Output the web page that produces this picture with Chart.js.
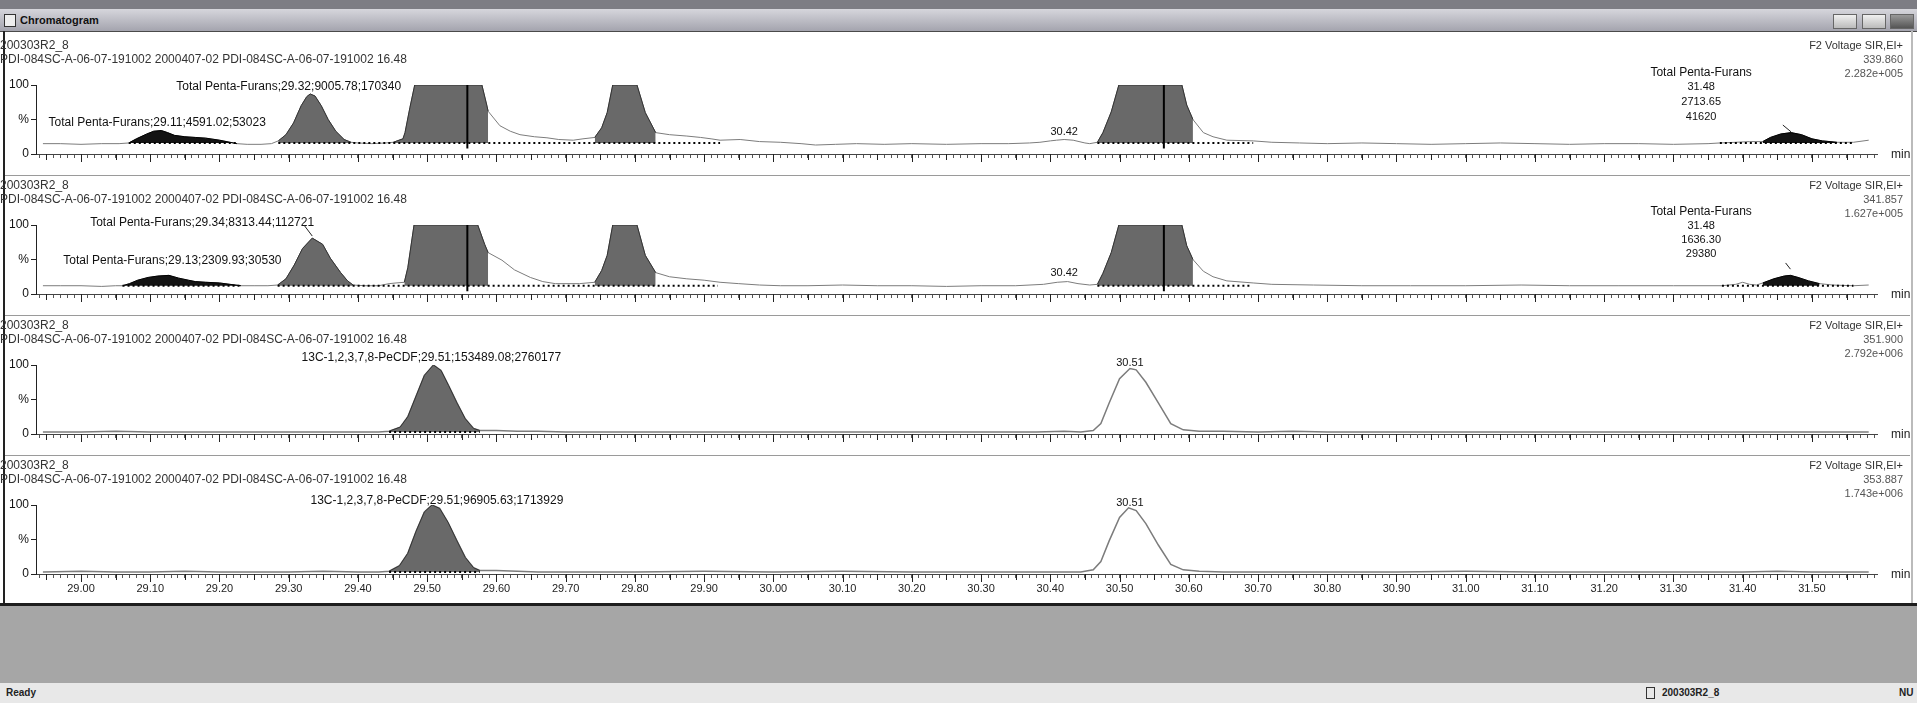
<!DOCTYPE html>
<html>
<head>
<meta charset="utf-8">
<script src="https://cdn.jsdelivr.net/npm/chart.js@4.4.1/dist/chart.umd.min.js"></script>
<style>
  body { margin: 0; width: 1917px; height: 703px; overflow: hidden; background: #fff; position: relative;
         font-family: "Liberation Sans", Arial, sans-serif; color: #222; }
  .abs { position: absolute; }
  #top { left: 0; top: 0; width: 1917px; height: 9px; background: #7d7d84; }
  #bar { left: 0; top: 9px; width: 1917px; height: 22px; background: linear-gradient(#d6d6dc, #a4a4ae); border-bottom: 1px solid #4a4a4a; }
  #bar span { position: absolute; left: 20px; top: 5px; font-size: 11px; font-weight: bold; color: #111; }
  #icon { left: 4px; top: 14px; width: 10px; height: 11px; border: 1px solid #333; background: #eee; }
  .btn { top: 14px; height: 13px; border: 1px solid #666; background: linear-gradient(#f0f0f0, #bbb); }
  #lborder { left: 3px; top: 31px; width: 2px; height: 572px; background: #222; }
  #rborder { left: 1911px; top: 31px; width: 2px; height: 572px; background: #bbb; }
  .sep { left: 5px; width: 1905px; height: 1px; background: #9a9a9a; }
  .hdr { left: 0; font-size: 12px; color: #333; white-space: nowrap; line-height: 14px; }
  .rhdr { right: 14px; font-size: 11px; color: #555; text-align: right; white-space: nowrap; line-height: 14px; }
  canvas { position: absolute; left: 0; }
  #gray { left: 0; top: 603px; width: 1917px; height: 80px; background: #a6a6a6; border-top: 3px solid #1e1e1e; box-sizing: border-box; }
  #status { left: 0; top: 683px; width: 1917px; height: 20px; background: #e8e8e8; font-size: 10px; font-weight: bold; }
</style>
</head>
<body>
<div class="abs" id="top"></div>
<div class="abs" id="bar"><span>Chromatogram</span></div>
<div class="abs" id="icon"></div>
<div class="abs btn" style="left:1833px;width:22px"></div>
<div class="abs btn" style="left:1862px;width:22px"></div>
<div class="abs btn" style="left:1890px;width:22px;background:linear-gradient(#999,#555)"></div>

<canvas id="c0" width="1917" height="122" style="top:50px"></canvas>
<canvas id="c1" width="1917" height="122" style="top:190px"></canvas>
<canvas id="c2" width="1917" height="122" style="top:330px"></canvas>
<canvas id="c3" width="1917" height="134" style="top:470px"></canvas>

<div class="abs" id="lborder"></div>
<div class="abs" id="rborder"></div>
<div class="abs" id="gray"></div>
<div class="abs" id="status">
  <span style="position:absolute;left:6px;top:4px">Ready</span>
  <span style="position:absolute;left:1646px;top:4px;width:7px;height:10px;border:1px solid #333"></span>
  <span style="position:absolute;left:1662px;top:4px">200303R2_8</span>
  <span style="position:absolute;left:1899px;top:4px">NU</span>
</div>

<script>
// x range (min)
const xMin = 28.935;
const xMax = 31.594;
const xTickStep = 0.01;

// header texts
const sampleName = '200303R2_8';
const sampleDesc = 'PDI-084SC-A-06-07-191002 2000407-02 PDI-084SC-A-06-07-191002 16.48';
const funcName = 'F2 Voltage SIR,EI+';
const panelMass = ['339.860', '341.857', '351.900', '353.887'];
const panelScale = ['2.282e+005', '1.627e+005', '2.792e+006', '1.743e+006'];

// ---- panel 1 : 339.860 ----
const p1Trace = [
  [28.945,15],[28.97,15],[29.00,14],[29.03,15],[29.055,15],
  [29.069,16],[29.08,22],[29.095,29],[29.105,33],[29.116,34],[29.125,31],[29.135,27],[29.15,25],[29.165,24],[29.18,23],[29.20,20],[29.215,17],[29.225,15],
  [29.24,14],[29.26,14],[29.275,15],[29.285,19],[29.296,28],[29.307,45],[29.318,70],[29.326,83],[29.331,87],[29.338,84],[29.347,70],[29.357,50],[29.368,33],[29.38,21],[29.39,17],
  [29.40,16],[29.42,15],[29.44,16],[29.451,17],[29.465,22],[29.468,31],[29.475,67],[29.482,100],[29.579,100],[29.586,71],[29.588,62],
  [29.605,41],[29.62,33],[29.634,28],[29.655,25],[29.673,23.5],[29.69,21],[29.711,20],[29.725,22],[29.742,24],
  [29.752,38],[29.76,60],[29.768,100],[29.803,100],[29.815,60],[29.83,31],[29.85,28],[29.875,26],[29.895,24],[29.91,22],[29.923,20],[29.952,21],[29.98,18],[30.01,17],
  [30.04,15],[30.061,13],[30.09,14],[30.12,15],[30.16,14],[30.20,15],[30.25,14],[30.30,15],[30.34,15],[30.37,16],[30.385,17],[30.40,19],[30.409,20],[30.42,21],[30.433,20],[30.45,16],[30.457,15],
  [30.468,17],[30.476,31],[30.488,61],[30.499,100],[30.59,100],[30.597,71],[30.606,50],
  [30.621,31],[30.635,25],[30.655,20],[30.693,19],[30.72,17],[30.76,16],[30.80,15],[30.85,16],[30.90,15],[30.95,14],[31.00,15],[31.05,16],[31.10,15],[31.15,14],[31.20,15],[31.25,15],[31.30,14],[31.35,15],[31.367,16],[31.39,17],[31.41,18],
  [31.429,18],[31.44,24],[31.455,29],[31.47,31],[31.485,28],[31.50,22],[31.515,19],[31.536,17],[31.56,17],[31.582,20]
];
const p1Base = 16;
const p1Peaks = [[29.069,29.225],[29.285,29.39],[29.451,29.588],[29.742,29.83],[30.468,30.606],[31.429,31.536]];
const p1Kinds = ['black','gray','gray','gray','gray','black'];
const p1Integ = [[29.069,29.225],[29.285,29.923],[30.468,30.693],[31.367,31.56]];
const p1Marks = [29.558, 30.564];
const p1Labels = [
  [29.30, 98, 'Total Penta-Furans;29.32;9005.78;170340'],
  [29.11, 46, 'Total Penta-Furans;29.11;4591.02;53023'],
  [30.42, 32, '30.42'],
  [31.34, 118, 'Total Penta-Furans'], [31.34, 97, '31.48'], [31.34, 76, '2713.65'], [31.34, 54, '41620']
];
const p1Leaders = [[31.458, 42, 31.47, 32]];

// ---- panel 2 : 341.857 ----
const p2Trace = [
  [28.945,12],[28.97,12],[29.00,12],[29.03,11],[29.05,12],
  [29.06,12],[29.07,15],[29.082,20],[29.097,24],[29.111,26],[29.127,27],[29.141,23],[29.155,20],[29.165,18],[29.18,17],[29.20,16],[29.215,14],[29.231,12],
  [29.25,12],[29.27,12],[29.284,13],[29.296,22],[29.308,42],[29.32,66],[29.334,81],[29.349,72],[29.36,52],[29.375,31],[29.385,19],[29.393,13],
  [29.41,12],[29.43,12],[29.445,15],[29.455,16],[29.467,17],[29.472,38],[29.481,100],[29.573,100],[29.583,72],[29.588,60],
  [29.608,49],[29.626,35],[29.649,24],[29.667,18],[29.685,15],[29.72,15],[29.742,17],
  [29.752,34],[29.76,56],[29.768,100],[29.803,100],[29.815,56],[29.83,31],[29.85,25],[29.875,22],[29.90,20],[29.923,17],[29.95,15],[29.98,13],[30.01,12],
  [30.05,12],[30.10,13],[30.15,12],[30.20,12],[30.25,11],[30.30,12],[30.35,12],[30.39,14],[30.41,17],[30.425,18],[30.44,15],[30.457,13],
  [30.468,14],[30.476,30],[30.488,60],[30.499,100],[30.59,100],[30.597,70],[30.606,50],
  [30.621,33],[30.635,25],[30.655,19],[30.693,16],[30.72,14],[30.78,13],[30.85,12],[30.92,12],[31.00,12],[31.08,13],[31.15,12],[31.22,12],[31.30,12],[31.37,12],[31.39,14],[31.40,17],[31.41,14],[31.42,13],
  [31.429,16],[31.445,22],[31.46,26],[31.469,27],[31.48,24],[31.495,19],[31.511,15],[31.53,13],[31.56,12],[31.582,13]
];
const p2Base = 12;
const p2Peaks = [[29.06,29.231],[29.284,29.393],[29.467,29.588],[29.742,29.83],[30.468,30.606],[31.429,31.511]];
const p2Kinds = ['black','gray','gray','gray','gray','black'];
const p2Integ = [[29.06,29.231],[29.284,29.92],[30.468,30.69],[31.37,31.56]];
const p2Marks = [29.558, 30.564];
const p2Labels = [
  [29.175, 104, 'Total Penta-Furans;29.34;8313.44;112721'],
  [29.132, 49, 'Total Penta-Furans;29.13;2309.93;30530'],
  [30.42, 30, '30.42'],
  [31.34, 119, 'Total Penta-Furans'], [31.34, 98, '31.48'], [31.34, 78, '1636.30'], [31.34, 58, '29380']
];
const p2Leaders = [[29.322, 100, 29.334, 84], [31.462, 45, 31.469, 36]];

// ---- panel 3 : 351.900 ----
const p3Trace = [
  [28.945,3],[29.00,3],[29.05,4],[29.10,3],[29.15,3],[29.20,3],[29.25,3],[29.30,3],[29.35,3],[29.40,3],[29.43,3],
  [29.445,4],[29.461,10],[29.472,25],[29.484,55],[29.496,85],[29.509,100],[29.52,92],[29.531,70],[29.543,45],[29.555,22],[29.567,8],[29.576,5],
  [29.60,5],[29.63,4],[29.66,4],[29.70,3],[29.80,3],[29.90,3],[30.00,3],[30.10,3],[30.20,3],[30.30,3],[30.38,3],[30.42,4],
  [30.444,3],[30.462,5],[30.473,15],[30.485,45],[30.50,80],[30.515,95],[30.524,93],[30.538,75],[30.556,45],[30.574,15],[30.592,6],[30.615,4],
  [30.65,4],[30.70,3],[30.75,4],[30.80,3],[30.90,3],[31.00,3],[31.10,3],[31.20,3],[31.30,3],[31.40,3],[31.50,3],[31.582,3]
];
const p3Base = 3;
const p3Peaks = [[29.445,29.576]];
const p3Kinds = ['gray'];
const p3Integ = [[29.445,29.576]];
const p3Marks = [];
const p3Labels = [
  [29.506, 110, '13C-1,2,3,7,8-PeCDF;29.51;153489.08;2760177'],
  [30.515, 103, '30.51']
];
const p3Leaders = [];

// ---- panel 4 : 353.887 ----
const p4Trace = [
  [28.945,3],[29.00,4],[29.05,3],[29.10,3],[29.15,4],[29.20,3],[29.25,3],[29.30,3],[29.35,4],[29.40,3],[29.43,3],
  [29.445,4],[29.46,12],[29.472,30],[29.484,62],[29.496,90],[29.507,100],[29.518,95],[29.53,75],[29.543,48],[29.555,24],[29.567,9],[29.576,5],
  [29.60,5],[29.63,4],[29.66,3],[29.70,3],[29.80,3],[29.90,4],[30.00,3],[30.10,4],[30.20,3],[30.30,3],[30.38,3],[30.42,3],
  [30.444,3],[30.462,6],[30.473,18],[30.485,48],[30.50,82],[30.513,96],[30.524,92],[30.538,73],[30.556,42],[30.574,14],[30.592,6],[30.615,4],
  [30.65,3],[30.70,3],[30.75,3],[30.80,3],[30.90,3],[31.00,4],[31.10,3],[31.20,3],[31.30,3],[31.40,3],[31.45,4],[31.50,3],[31.582,3]
];
const p4Base = 3;
const p4Peaks = [[29.445,29.576]];
const p4Kinds = ['gray'];
const p4Integ = [[29.445,29.576]];
const p4Marks = [];
const p4Labels = [
  [29.514, 106, '13C-1,2,3,7,8-PeCDF;29.51;96905.63;1713929'],
  [30.515, 103, '30.51']
];
const p4Leaders = [];

const panels = [
  { trace: p1Trace, base: p1Base, peaks: p1Peaks, kinds: p1Kinds, integ: p1Integ, marks: p1Marks, labels: p1Labels, leaders: p1Leaders },
  { trace: p2Trace, base: p2Base, peaks: p2Peaks, kinds: p2Kinds, integ: p2Integ, marks: p2Marks, labels: p2Labels, leaders: p2Leaders },
  { trace: p3Trace, base: p3Base, peaks: p3Peaks, kinds: p3Kinds, integ: p3Integ, marks: p3Marks, labels: p3Labels, leaders: p3Leaders },
  { trace: p4Trace, base: p4Base, peaks: p4Peaks, kinds: p4Kinds, integ: p4Integ, marks: p4Marks, labels: p4Labels, leaders: p4Leaders }
];

// layout of the four panels (y of the 0 line on the page)
const zeroY = [154, 294, 434, 574];
const plotH = 69;
const padTop = 35;

const FONT = '"Liberation Sans", Arial, sans-serif';
const fillColor = { black: '#141414', gray: '#696969' };

// texte des pics + "min" + ticks longs
const peakText = {
  id: 'peakText',
  beforeDatasetsDraw(chart, args, opts) {
    const { ctx, scales: { x, y } } = chart;
    ctx.save();
    ctx.fillStyle = '#111';
    ctx.textAlign = 'center';
    ctx.textBaseline = 'middle';
    opts.labels.forEach(l => {
      ctx.font = (l[2].length > 8 ? '12px ' : '11px ') + FONT;
      ctx.fillText(l[2], x.getPixelForValue(l[0]), y.getPixelForValue(l[1]));
    });
    ctx.restore();
  },
  afterDatasetsDraw(chart, args, opts) {
    const { ctx, chartArea, scales: { x, y } } = chart;
    ctx.save();
    ctx.strokeStyle = '#222';
    ctx.lineWidth = 1;
    opts.leaders.forEach(l => {
      ctx.beginPath();
      ctx.moveTo(x.getPixelForValue(l[0]), y.getPixelForValue(l[1]));
      ctx.lineTo(x.getPixelForValue(l[2]), y.getPixelForValue(l[3]));
      ctx.stroke();
    });
    // longer ticks each 0.05 / 0.1 min
    x.ticks.forEach(t => {
      const k = Math.round(t.value * 100);
      if (k % 5 !== 0) return;
      const px = Math.round(x.getPixelForValue(t.value)) + 0.5;
      ctx.beginPath();
      ctx.moveTo(px, chartArea.bottom);
      ctx.lineTo(px, chartArea.bottom + (k % 10 === 0 ? 8 : 6));
      ctx.stroke();
    });
    ctx.fillStyle = '#222';
    ctx.font = '12px ' + FONT;
    ctx.textAlign = 'left';
    ctx.textBaseline = 'middle';
    ctx.fillText('min', chartArea.right + 14, chartArea.bottom + 1);
    ctx.restore();
  }
};

function pts(arr) { return arr.map(p => ({ x: p[0], y: p[1] })); }

function buildPanel(i) {
  const p = panels[i];
  const last = i === panels.length - 1;
  const datasets = [];

  // trace
  datasets.push({ data: pts(p.trace), borderColor: '#7c7c7c', borderWidth: i > 1 ? 1.5 : 1, order: 5, fill: false });

  // integrated peaks
  p.peaks.forEach((r, k) => {
    const seg = p.trace.filter(q => q[0] >= r[0] && q[0] <= r[1]);
    datasets.push({
      data: pts(seg),
      borderColor: p.kinds[k] === 'black' ? '#000' : '#333',
      borderWidth: 1,
      backgroundColor: fillColor[p.kinds[k]],
      fill: { value: p.base },
      order: 4
    });
  });

  // integration baselines (dotted)
  p.integ.forEach(r => {
    datasets.push({
      data: [{ x: r[0], y: p.base }, { x: r[1], y: p.base }],
      borderColor: '#000', borderWidth: 2, borderDash: [2, 3], fill: false, order: 2
    });
  });

  // vertical marks inside saturated peaks
  p.marks.forEach(m => {
    datasets.push({
      data: [{ x: m, y: p.base - 8 }, { x: m, y: 100 }],
      borderColor: '#000', borderWidth: 2, fill: false, order: 1
    });
  });

  const bottomH = last ? 30 : 18;

  new Chart(document.getElementById('c' + i), {
    type: 'line',
    data: { datasets },
    options: {
      responsive: false,
      animation: false,
      devicePixelRatio: 1,
      events: [],
      layout: { padding: { top: padTop, right: 40, left: 0, bottom: 0 } },
      elements: { point: { radius: 0 }, line: { tension: 0 } },
      plugins: {
        legend: { display: false },
        tooltip: { enabled: false },
        peakText: { labels: p.labels, leaders: p.leaders }
      },
      scales: {
        x: {
          type: 'linear',
          min: xMin,
          max: xMax,
          afterFit: s => { s.height = bottomH; },
          border: { display: true, color: '#444', width: 1 },
          grid: { drawOnChartArea: false, drawTicks: true, tickLength: 4, tickColor: '#555' },
          ticks: {
            display: last,
            stepSize: xTickStep,
            maxTicksLimit: 1000,
            includeBounds: false,
            autoSkip: false,
            maxRotation: 0,
            minRotation: 0,
            padding: 4,
            color: '#222',
            font: { family: FONT, size: 11 },
            callback: v => (Math.round(v * 100) % 10 === 0 ? v.toFixed(2) : '')
          }
        },
        y: {
          min: 0,
          max: 100,
          afterFit: s => { s.width = 36; },
          border: { display: true, color: '#222', width: 1 },
          grid: { drawOnChartArea: false, drawTicks: true, tickLength: 5, tickColor: '#222' },
          ticks: {
            stepSize: 50,
            padding: 2,
            color: '#111',
            font: { family: FONT, size: 12 },
            callback: v => (v === 100 ? '100' : v === 50 ? '%' : v === 0 ? '0' : '')
          }
        }
      }
    },
    plugins: [peakText]
  });

  // headers
  const top0 = zeroY[i] - plotH - padTop;
  document.getElementById('c' + i).style.top = top0 + 'px';
  const h = document.createElement('div');
  h.className = 'abs hdr';
  h.style.top = (zeroY[i] - 116) + 'px';
  h.innerHTML = sampleName + '<br>' + sampleDesc;
  document.body.appendChild(h);
  const r = document.createElement('div');
  r.className = 'abs rhdr';
  r.style.top = (zeroY[i] - 116) + 'px';
  r.innerHTML = '<span style="color:#333">' + funcName + '</span><br>' + panelMass[i] + '<br>' + panelScale[i];
  document.body.appendChild(r);
  if (!last) {
    const s = document.createElement('div');
    s.className = 'abs sep';
    s.style.top = (zeroY[i] + 21) + 'px';
    document.body.appendChild(s);
  }
}

panels.forEach((p, i) => buildPanel(i));
</script>
</body>
</html>
